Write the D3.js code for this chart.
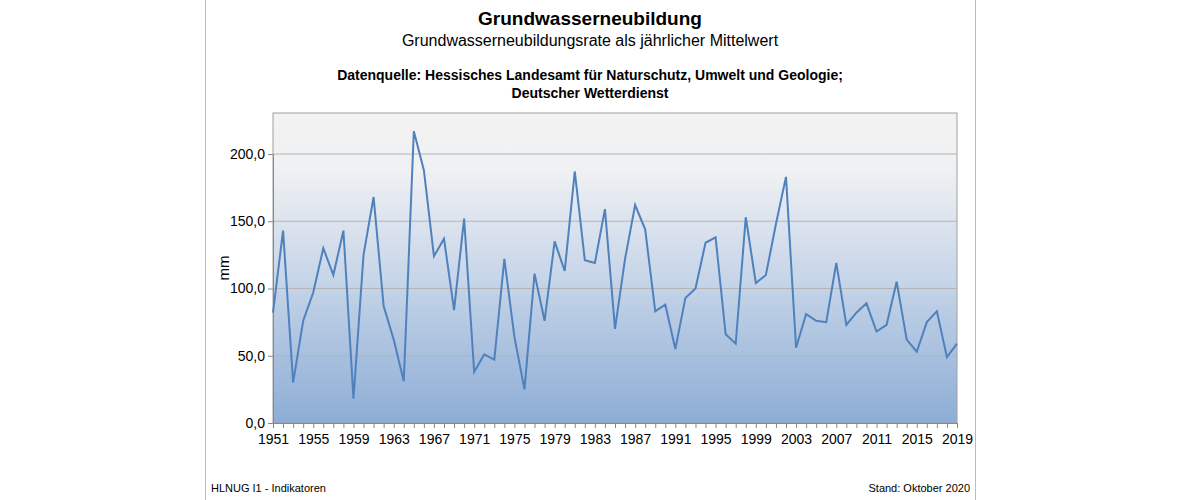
<!DOCTYPE html>
<html><head><meta charset="utf-8">
<script src="https://cdn.jsdelivr.net/npm/d3@7"></script>
<style>body{margin:0;background:#fff}text{font-family:Arial,"Liberation Sans",sans-serif}</style>
</head><body><svg id="c" width="1180" height="500"></svg>
<script>
const years = d3.range(1951, 2020);
const values = [82,143,30,76,97,130,110,143,18,125,168,87,62,31,217,188,124,137,84,152,38,51,47,122,64,25,111,76,135,113,187,121,119,159,70,122,162,144,83,88,55,93,100,134,138,66,59,153,104,110,148,183,56,81,76,75,119,73,82,89,68,73,105,62,53,75,83,49,59];
const yTicks = [0,50,100,150,200];
const xTickYears = d3.range(1951, 2020, 4);

const svg = d3.select("#c");
svg.append("line").attr("x1",205.5).attr("x2",205.5).attr("y1",0).attr("y2",500).attr("stroke","#bbb");
svg.append("line").attr("x1",975.5).attr("x2",975.5).attr("y1",0).attr("y2",500).attr("stroke","#bbb");

const L=273,R=957,T=113,B=423;
const x = d3.scaleLinear().domain([1951,2019]).range([L,R]);
const y = d3.scaleLinear().domain([0,200]).range([B,154]);
const yTop = y.invert(T);

const defs = svg.append("defs");
const g = defs.append("linearGradient").attr("id","bg").attr("x1",0).attr("x2",0).attr("y1",0).attr("y2",1);
g.append("stop").attr("offset","0%").attr("stop-color","#f2f2f2");
g.append("stop").attr("offset","18%").attr("stop-color","#f0f1f3");
g.append("stop").attr("offset","55%").attr("stop-color","#c5d4e8");
g.append("stop").attr("offset","100%").attr("stop-color","#8dadd6");
svg.append("rect").attr("x",L).attr("y",T).attr("width",R-L).attr("height",B-T).attr("fill","url(#bg)").attr("stroke","#a0a0a0");

svg.append("g").selectAll("line").data(yTicks.slice(1)).join("line")
  .attr("x1",L).attr("x2",R).attr("y1",d=>y(d)).attr("y2",d=>y(d)).attr("stroke","#b5b5b5");

const ya = svg.append("g").attr("transform",`translate(${L},0)`)
  .call(d3.axisLeft(y).tickValues(yTicks).tickSize(5).tickFormat(d=>d3.format(".1f")(d).replace(".",",")));
ya.select(".domain").attr("stroke","#888");
ya.selectAll("text").attr("font-size",14).attr("fill","#000");
ya.selectAll("line").attr("stroke","#888");

const xa = svg.append("g").attr("transform",`translate(0,${B})`)
  .call(d3.axisBottom(x).tickValues(years).tickSize(5).tickFormat(d=>xTickYears.includes(d)?d:""));
xa.select(".domain").attr("stroke","#888");
xa.selectAll("line").attr("stroke","#888");
xa.selectAll("text").attr("font-size",14).attr("fill","#000").attr("dy","0.9em");

svg.append("path").datum(values).attr("fill","none").attr("stroke","#4f81bd").attr("stroke-width",2)
  .attr("d",d3.line().x((d,i)=>x(years[i])).y(d=>y(d)));

svg.append("text").attr("transform",`translate(229,${(T+B)/2}) rotate(-90)`).attr("text-anchor","middle").attr("font-size",15).text("mm");

const t=(txt,xx,yy,sz,w,anchor)=>svg.append("text").attr("x",xx).attr("y",yy).attr("font-size",sz).attr("font-weight",w||"normal").attr("text-anchor",anchor||"middle").text(txt);
t("Grundwasserneubildung",590,25,19,"bold");
t("Grundwasserneubildungsrate als jährlicher Mittelwert",590,46,16);
t("Datenquelle: Hessisches Landesamt für Naturschutz, Umwelt und Geologie;",590,80,14,"bold");
t("Deutscher Wetterdienst",590,98,14,"bold");
t("HLNUG I1 - Indikatoren",211,492,11,"normal","start");
t("Stand: Oktober 2020",970,492,11,"normal","end");
</script></body></html>
